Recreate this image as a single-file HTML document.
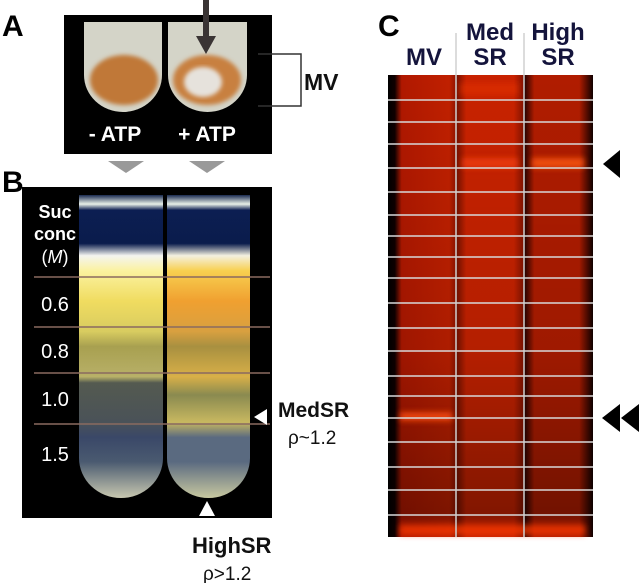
<!DOCTYPE html>
<html><head><meta charset="utf-8"><style>
html,body{margin:0;padding:0;background:#fff;}
svg{display:block;font-family:"Liberation Sans",Arial,sans-serif;}
</style></head><body>
<svg width="641" height="583" viewBox="0 0 641 583" xmlns="http://www.w3.org/2000/svg">
<defs>
<filter id="blur3"><feGaussianBlur stdDeviation="3"/></filter>
<filter id="blur2"><feGaussianBlur stdDeviation="2"/></filter>
<linearGradient id="tubeA" x1="0" y1="0" x2="0" y2="1">
<stop offset="0" stop-color="#d8d8cc"/><stop offset="0.4" stop-color="#cfcdbd"/><stop offset="0.55" stop-color="#c8884a"/><stop offset="1" stop-color="#b9733a"/></linearGradient>
<linearGradient id="tubeBL" x1="0" y1="0" x2="0" y2="1">
<stop offset="0" stop-color="#1a2a50"/><stop offset="0.03" stop-color="#e8f0e8"/><stop offset="0.05" stop-color="#0c1e52"/><stop offset="0.16" stop-color="#0a1c4c"/><stop offset="0.2" stop-color="#f4f4f0"/><stop offset="0.25" stop-color="#fbf2a0"/><stop offset="0.35" stop-color="#f0dc60"/><stop offset="0.45" stop-color="#d8cc60"/><stop offset="0.5" stop-color="#a8a050"/><stop offset="0.6" stop-color="#b8b068"/><stop offset="0.62" stop-color="#545a50"/><stop offset="0.75" stop-color="#4a5258"/><stop offset="0.8" stop-color="#3a4868"/><stop offset="0.88" stop-color="#4a5a70"/><stop offset="1" stop-color="#c8c8b0"/></linearGradient>
<linearGradient id="tubeBR" x1="0" y1="0" x2="0" y2="1">
<stop offset="0" stop-color="#1a2a50"/><stop offset="0.03" stop-color="#e8f0e8"/><stop offset="0.05" stop-color="#0c1e52"/><stop offset="0.16" stop-color="#0a1c4c"/><stop offset="0.2" stop-color="#f4f0e0"/><stop offset="0.25" stop-color="#f8d050"/><stop offset="0.35" stop-color="#f0a030"/><stop offset="0.45" stop-color="#d8a040"/><stop offset="0.5" stop-color="#a89040"/><stop offset="0.6" stop-color="#d8b048"/><stop offset="0.66" stop-color="#8a8a50"/><stop offset="0.75" stop-color="#c8b860"/><stop offset="0.8" stop-color="#5a6a80"/><stop offset="0.88" stop-color="#5a6a80"/><stop offset="1" stop-color="#c8c8a0"/></linearGradient>
<linearGradient id="laneL" x1="0" y1="0" x2="1" y2="0">
<stop offset="0" stop-color="#000"/><stop offset="0.1" stop-color="#100000"/><stop offset="0.2" stop-color="#b01800"/><stop offset="0.9" stop-color="#c02000"/><stop offset="1" stop-color="#901400"/></linearGradient>
<linearGradient id="laneM" x1="0" y1="0" x2="1" y2="0">
<stop offset="0" stop-color="#701000"/><stop offset="0.15" stop-color="#c82200"/><stop offset="0.85" stop-color="#c82200"/><stop offset="1" stop-color="#801200"/></linearGradient>
<linearGradient id="laneR" x1="0" y1="0" x2="1" y2="0">
<stop offset="0" stop-color="#200000"/><stop offset="0.15" stop-color="#b01c00"/><stop offset="0.8" stop-color="#b01c00"/><stop offset="1" stop-color="#100000"/></linearGradient>
<linearGradient id="vshade" x1="0" y1="0" x2="0" y2="1">
<stop offset="0" stop-color="#000" stop-opacity="0"/><stop offset="0.6" stop-color="#000" stop-opacity="0.1"/><stop offset="0.95" stop-color="#000" stop-opacity="0.35"/><stop offset="1" stop-color="#000" stop-opacity="0"/></linearGradient>
</defs>

<!-- Panel A -->
<text x="2" y="36" font-size="30" font-weight="bold">A</text>
<rect x="64" y="15" width="208" height="139" fill="#000"/>
<path d="M84 22 H162 V75 A39 37 0 0 1 84 75 Z" fill="#d4d4c8"/>
<path d="M168 22 H247 V75 A39.5 37 0 0 1 168 75 Z" fill="#d4d4c8"/>
<ellipse cx="124" cy="80" rx="34" ry="25" fill="#c07838" filter="url(#blur2)"/>
<ellipse cx="207" cy="80" rx="34" ry="25" fill="#c88040" filter="url(#blur2)"/>
<ellipse cx="203" cy="82" rx="19" ry="15" fill="#e6e2dc" filter="url(#blur2)"/>
<text x="115" y="141" font-size="21" font-weight="bold" fill="#fff" text-anchor="middle">- ATP</text>
<text x="207" y="141" font-size="21" font-weight="bold" fill="#fff" text-anchor="middle">+ ATP</text>
<g>
<rect x="203" y="0" width="6" height="38" fill="#3a3434"/>
<polygon points="196,36 216,36 206,54" fill="#3a3434"/></g>
<g stroke="#333" stroke-width="1.5" fill="none">
<path d="M258 54 H301 V106 H258"/></g>
<text x="304" y="90" font-size="23" font-weight="bold" fill="#111">MV</text>

<!-- Panel B -->
<text x="2" y="192" font-size="30" font-weight="bold">B</text>
<polygon points="108,161 144,161 126,173" fill="#999"/>
<polygon points="189,161 225,161 207,173" fill="#999"/>
<rect x="22" y="187" width="250" height="331" fill="#000"/>
<path d="M79 195 H163 V458 A42 40 0 0 1 79 458 Z" fill="url(#tubeBL)"/>
<path d="M167 195 H250 V458 A41.5 40 0 0 1 167 458 Z" fill="url(#tubeBR)"/>
<g stroke="#8a6a60" stroke-width="1.5">
<line x1="34" y1="277" x2="270" y2="277"/><line x1="34" y1="327" x2="270" y2="327"/>
<line x1="34" y1="373" x2="270" y2="373"/><line x1="34" y1="424" x2="270" y2="424"/></g>
<g fill="#fff" font-size="18" font-weight="bold" text-anchor="middle">
<text x="55" y="218">Suc</text><text x="55" y="240">conc</text>
<text x="55" y="263" font-weight="normal">(<tspan font-style="italic">M</tspan>)</text>
<text x="55" y="311" font-weight="normal" font-size="20">0.6</text>
<text x="55" y="358" font-weight="normal" font-size="20">0.8</text>
<text x="55" y="406" font-weight="normal" font-size="20">1.0</text>
<text x="55" y="461" font-weight="normal" font-size="20">1.5</text></g>
<polygon points="267,409 267,425 254,417" fill="#fff"/>
<polygon points="199,516 215,516 207,501" fill="#fff"/>
<text x="278" y="417" font-size="21" font-weight="bold" fill="#111">MedSR</text>
<text x="288" y="444" font-size="19" fill="#111">ρ~1.2</text>
<text x="192" y="553" font-size="22" font-weight="bold" fill="#111">HighSR</text>
<text x="203" y="580" font-size="19" fill="#111">ρ&gt;1.2</text>

<!-- Panel C -->
<text x="378" y="36" font-size="30" font-weight="bold">C</text>
<g fill="#14143c" font-size="24" font-weight="bold" text-anchor="middle">
<text x="424" y="65">MV</text>
<text x="490" y="40">Med</text><text x="490" y="65">SR</text>
<text x="558" y="40">High</text><text x="558" y="65">SR</text></g>
<g>
<rect x="388" y="75" width="68" height="462" fill="url(#laneL)"/>
<rect x="456" y="75" width="68" height="462" fill="url(#laneM)"/>
<rect x="524" y="75" width="69" height="462" fill="url(#laneR)"/>
<rect x="388" y="75" width="205" height="462" fill="url(#vshade)"/>
<g filter="url(#blur3)">
<rect x="462" y="158" width="56" height="10" fill="#ff4a10" opacity="0.6"/>
<rect x="532" y="158" width="52" height="10" fill="#ff5a10" opacity="0.8"/>
<rect x="400" y="412" width="52" height="9" fill="#ff5010" opacity="0.8"/>
<rect x="400" y="525" width="185" height="10" fill="#ff3a08" opacity="0.7"/>
<rect x="460" y="83" width="58" height="12" fill="#e83008" opacity="0.5"/></g>
</g>
<g id="gridlines" stroke="#d8d8d8" stroke-width="1.5"></g>
<g stroke="#d0d0d0" stroke-width="1.5">
<line x1="456" y1="33" x2="456" y2="537"/>
<line x1="524" y1="33" x2="524" y2="537"/></g>
<polygon points="620,150 620,178 603,164" fill="#000"/>
<g fill="#000">
<polygon points="620,404 620,432 602,418"/>
<polygon points="639,404 639,432 621,418"/></g>
</svg>
<script>
const sliceLines = [100,122,144,168,192,215,236,257,278,303,328,351,376,396,418,442,467,490,515];
const g = document.getElementById('gridlines');
sliceLines.forEach(function(y){
  const l = document.createElementNS('http://www.w3.org/2000/svg','line');
  
  
  l.setAttribute('x1', 388); l.setAttribute('x2', 593);
  l.setAttribute('y1', y); l.setAttribute('y2', y);
  g.appendChild(l);
});
</script>
</body></html>
